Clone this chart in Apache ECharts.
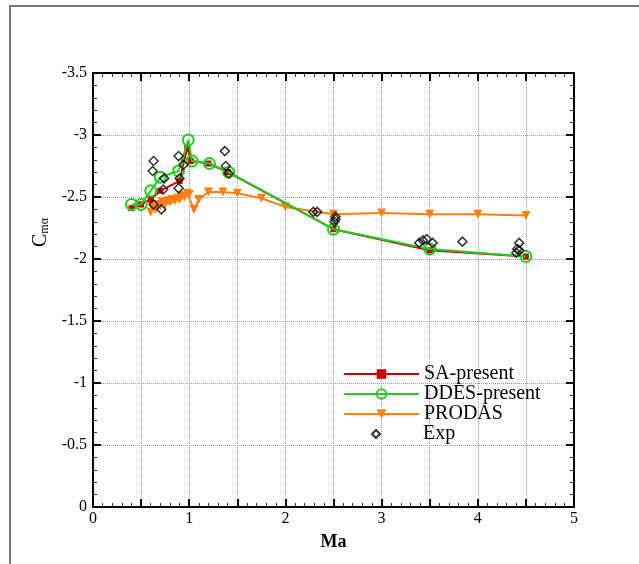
<!DOCTYPE html>
<html>
<head>
<meta charset="utf-8">
<script src="https://cdn.jsdelivr.net/npm/echarts@6/dist/echarts.min.js"></script>
<style>
  html, body { margin: 0; padding: 0; background: #fff; }
  #chart_1 { width: 639px; height: 564px; }
</style>
</head>
<body>
<div id="chart_1"></div>
<script>
// Mach number / Cm_alpha
var saMa   = [0.4, 0.5, 0.6, 0.7, 0.9, 0.98, 1.02, 1.2, 1.4, 2.5, 3.5, 4.5];
var saCm   = [-2.41, -2.44, -2.48, -2.55, -2.63, -2.90, -2.79, -2.77, -2.70, -2.24, -2.07, -2.02];

var ddesMa = [0.4, 0.5, 0.6, 0.7, 0.89, 0.99, 1.03, 1.21, 1.41, 2.5, 3.5, 4.5];
var ddesCm = [-2.44, -2.44, -2.55, -2.66, -2.71, -2.96, -2.79, -2.77, -2.70, -2.24, -2.08, -2.02];

var prodasMa = [0.6, 0.62, 0.65, 0.68, 0.7, 0.72, 0.75, 0.78, 0.8, 0.82, 0.85, 0.88, 0.9, 0.92, 0.95, 0.98, 1.0,
                1.05, 1.1, 1.2, 1.35, 1.5, 1.75, 2.0, 2.5, 3.0, 3.5, 4.0, 4.5];
var prodasCm = [-2.38, -2.42, -2.40, -2.44, -2.43, -2.46, -2.44, -2.47, -2.46, -2.48, -2.47, -2.49, -2.48, -2.51, -2.50, -2.53, -2.52,
                -2.40, -2.48, -2.54, -2.54, -2.53, -2.49, -2.42, -2.36, -2.37, -2.36, -2.36, -2.35];

var expMa = [0.63, 0.62, 0.89, 0.94, 0.74, 0.73, 0.89, 0.90, 0.63, 0.71, 1.37, 1.38, 1.41,
             2.29, 2.33, 2.52, 2.52, 2.51, 3.39, 3.43, 3.47, 3.53, 3.84, 4.43, 4.41, 4.43, 4.40];
var expCm = [-2.79, -2.71, -2.83, -2.76, -2.65, -2.56, -2.57, -2.65, -2.44, -2.40, -2.87, -2.75, -2.69,
             -2.38, -2.38, -2.34, -2.32, -2.30, -2.13, -2.15, -2.16, -2.13, -2.14, -2.13, -2.08, -2.07, -2.05];

function pairs(xs, ys) {
    return xs.map(function (x, i) { return [x, ys[i]]; });
}

(function () {
    var myChart = echarts.init(document.getElementById('chart_1'));
    var font = 'Liberation Serif';
    var baseAxis = {
        type: 'value',
        axisLine: { show: true, onZero: false, lineStyle: { color: '#000', width: 2 } },
        axisTick: { show: true, inside: true, length: 8, lineStyle: { color: '#000', width: 2 } },
        minorTick: { show: true, splitNumber: 5, length: 4, lineStyle: { color: '#333', width: 1 } },
        splitLine: { show: false },
        axisLabel: { show: false }
    };
    function ax(extra) { return Object.assign({}, JSON.parse(JSON.stringify(baseAxis)), extra); }
    var legendText = { fontFamily: font, fontSize: 20, lineHeight: 20, color: '#000' };

    option = {
        backgroundColor: '#fff',
        animation: false,
        grid: { left: 93, right: 65, top: 73, bottom: 57 },
        graphic: [{
            type: 'rect',
            shape: { x: 10, y: 6, width: 700, height: 700 },
            style: { fill: null, stroke: '#777', lineWidth: 2 },
            silent: true
        }],
        legend: [{
            orient: 'vertical',
            left: 338,
            top: 359,
            itemWidth: 75,
            itemHeight: 12,
            itemGap: 0,
            textStyle: legendText,
            data: ['SA-present', 'DDES-present', 'PRODAS']
        }, {
            orient: 'vertical',
            left: 366,
            top: 419,
            itemWidth: 8,
            itemHeight: 8,
            textStyle: Object.assign({ padding: [0, 0, 0, 38] }, legendText),
            data: ['Exp']
        }],
        xAxis: [
            ax({
                min: 0, max: 5, interval: 0.5,
                position: 'bottom',
                name: 'Ma', nameLocation: 'middle', nameGap: 26,
                nameTextStyle: { fontFamily: font, fontSize: 18, fontWeight: 'bold', color: '#000' },
                splitLine: { show: true, lineStyle: { color: '#999', type: 'dotted', width: 1 } },
                axisLabel: {
                    show: true, fontFamily: font, fontSize: 16, color: '#000', margin: 4,
                    formatter: function (v) { return Math.abs(v - Math.round(v)) < 1e-6 ? String(Math.round(v)) : ''; }
                }
            }),
            ax({ min: 0, max: 5, interval: 0.5, position: 'top' })
        ],
        yAxis: [
            ax({
                min: -3.5, max: 0, interval: 0.5, inverse: true,
                position: 'left',
                name: '{c|C}{s|mα}', nameLocation: 'middle', nameGap: 42, nameRotate: 90,
                nameTextStyle: {
                    padding: [0, 0, 0, 115],
                    rich: {
                        c: { fontFamily: font, fontSize: 20, color: '#000' },
                        s: { fontFamily: font, fontSize: 12, color: '#000', padding: [9, 0, 0, 0] }
                    }
                },
                splitLine: { show: true, lineStyle: { color: '#999', type: 'dotted', width: 1 } },
                axisLabel: { show: true, fontFamily: font, fontSize: 16, color: '#000', margin: 6 }
            }),
            ax({ min: -3.5, max: 0, interval: 0.5, inverse: true, position: 'right' })
        ],
        series: [
            {
                name: 'SA-present', type: 'line',
                data: pairs(saMa, saCm),
                symbol: 'rect', symbolSize: 6,
                lineStyle: { width: 2, color: '#cc0000' },
                itemStyle: { color: '#cc0000' },
                z: 3
            },
            {
                name: 'DDES-present', type: 'line',
                data: pairs(ddesMa, ddesCm),
                symbol: 'circle', symbolSize: 11,
                lineStyle: { width: 2, color: '#22cc22' },
                itemStyle: { color: 'rgba(255,255,255,0)', borderColor: '#22cc22', borderWidth: 2 },
                z: 4
            },
            {
                name: 'PRODAS', type: 'line',
                data: pairs(prodasMa, prodasCm),
                symbol: 'triangle', symbolRotate: 180, symbolSize: 9,
                lineStyle: { width: 2, color: '#ff8010' },
                itemStyle: { color: '#ff8010' },
                z: 2
            },
            {
                name: 'Exp', type: 'scatter',
                data: pairs(expMa, expCm),
                symbol: 'diamond', symbolSize: 9,
                itemStyle: { color: 'rgba(255,255,255,0)', borderColor: '#000', borderWidth: 1.5 },
                z: 5
            }
        ]
    };

    if (option && typeof option === 'object')
        myChart.setOption(option);
    window.addEventListener("resize", function () {
        myChart.resize();
    });
})();
</script>
</body>
</html>
